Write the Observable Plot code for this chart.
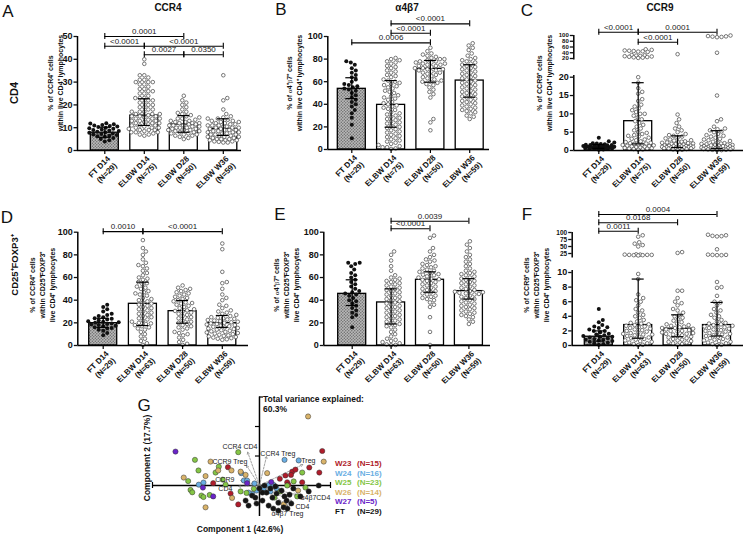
<!DOCTYPE html>
<html><head><meta charset="utf-8">
<script src="https://cdn.jsdelivr.net/npm/d3@7"></script>
<script src="https://cdn.jsdelivr.net/npm/@observablehq/plot@0.6"></script>
<style>
html,body{margin:0;padding:0;background:#fff;}
#page{position:relative;width:744px;height:536px;overflow:hidden;background:#fff;font-family:"Liberation Sans",Arial,Helvetica,sans-serif;color:#111;}
.t{position:absolute;white-space:pre;line-height:1.2;}
</style></head><body>
<svg width="0" height="0" style="position:absolute"><defs><pattern id="stip" width="3" height="3" patternUnits="userSpaceOnUse"><rect width="3" height="3" fill="#b8b8b8"/><circle cx="0.8" cy="0.8" r="0.7" fill="#666"/><circle cx="2.3" cy="2.3" r="0.7" fill="#666"/></pattern></defs></svg>
<div id="page"></div>
<script>
// ---------------- DATA ----------------
const groups = ["FT D14", "ELBW D14", "ELBW D28", "ELBW W36"];
const nTop = [29, 75, 50, 59];
const nBottom = [29, 63, 50, 59];

// A: CCR4 within CD4
const ccr4Cd4FT = [12,11.8,11.5,11.2,11,10.8,10.5,10.3,10,9.8,9.5,9.2,9,8.8,8.5,8.2,8,7.8,7.5,7.2,7,6.8,6.5,6.2,6,5.5,5,4.5,4];
const ccr4Cd4D14 = [40,38,33,33,32,31,31,30,30,30,29,29,28,27,27,26,26,25,25,24,23,23,23,22,22,21,21,20,20,19,19,18,18,17,17,17,16,16,16,15.5,15,15,15,14.5,14,14,14,13.5,13,13,13,12.5,12,12,12,11.5,11,11,11,10.5,10,10,10,9.5,9,9,9,8.5,8,8,8,7.5,7,7,6.5];
const ccr4Cd4D28 = [24,22,21,20,19,18,17,16.5,16,15.5,15,14.5,14,14,13.5,13,13,12.5,12.5,12,12,12,11.5,11.5,11,11,11,10.5,10.5,10,10,10,9.5,9.5,9,9,9,8.5,8.5,8,8,7.5,7.5,7,7,6.5,6.5,6,5.5,5];
const ccr4Cd4W36 = [33,23,22,18,16,15,14.5,14,14,13.5,13,13,12.5,12.5,12,12,11.5,11.5,11,11,11,10.5,10.5,10,10,10,9.5,9.5,9,9,9,8.5,8.5,8,8,8,7.5,7.5,7,7,7,6.5,6.5,6,6,6,5.5,5.5,5,5,5,4.5,4.5,4.5,4,4,3.8,3.5,3.5];
const ccr4Cd4Median = [7.8, 15.3, 11.4, 9.5];
const ccr4Cd4Low = [5.8, 11, 8, 6.6];
const ccr4Cd4High = [10.2, 22.7, 15.3, 13.9];
const ccr4Cd4Pvals = [[0,2,50,"0.0001"],[0,1,45.7,"<0.0001"],[1,3,45.7,"<0.0001"],[1,2,42,"0.0027"],[2,3,42,"0.0350"]];

// B: a4b7 within CD4
const a4b7Cd4FT = [78,77,75,72,70,68,66,64,62,60,58,57,56,55,54,53,52,50,48,46,44,42,40,38,35,32,28,22,10];
const a4b7Cd4D14 = [81,80,79,78,77,76,74,73,72,70,69,68,66,65,64,62,61,60,59,58,57,56,55,54,52,51,50,48,47,46,45,44,42,41,40,39,38,37,36,35,33,32,31,30,29,28,27,26,25,24,23,22,21,20,19,18,17,16,15,14,13,12,11,10,9,8,7,6,5,4,3,2,2,1,0.5];
const a4b7Cd4D28 = [90,87,85,84,83,82,81,80,80,79,78,78,77,77,76,76,75,75,74,74,73,72,72,71,71,70,70,69,68,68,67,66,65,64,63,62,61,60,60,59,58,57,55,53,51,49,46,27,24,17];
const a4b7Cd4W36 = [94,92,90,88,85,83,81,80,79,78,77,76,75,74,73,72,71,70,69,68,67,66,65,64,63,62,61,60,59,58,57,56,55,54,53,52,51,50,49,48,47,46,45,44,43,42,41,40,39,38,37,36,35,34,33,32,30,29,27];
const a4b7Cd4Median = [53.7, 39.5, 71.4, 61];
const a4b7Cd4Low = [45, 19.7, 59.6, 46.3];
const a4b7Cd4High = [63.5, 61, 78.8, 75];
const a4b7Cd4Pvals = [[0,2,94.4,"0.0006"],[1,2,102.9,"<0.0001"],[1,3,111.2,"<0.0001"]];

// C: CCR9 within CD4 (broken axis)
const ccr9Cd4FT = [3.5,2.5,2.2,2,1.9,1.8,1.7,1.6,1.5,1.5,1.4,1.3,1.2,1.2,1.1,1,1,0.9,0.9,0.8,0.8,0.7,0.7,0.6,0.5,0.5,0.4,0.3,0.2];
const ccr9Cd4D14 = [52,50,48,47,46,45,44,43,32,31,30,29,28,27,26,25,24,23,22,20,18.5,17,16,15.5,14,13.5,12.5,12,11.5,11,10.5,10,10,9.5,9,8.5,8,7.5,7,6.5,6,5.5,5,4.8,4.5,4.2,4,3.8,3.5,3.2,3,2.8,2.5,2.3,2.1,2,1.9,1.8,1.7,1.6,1.5,1.4,1.3,1.2,1.1,1,0.9,0.8,0.7,0.6,0.5,0.5,0.4,0.3,0.2];
const ccr9Cd4D28 = [35,9.8,8.5,7.5,6.5,6,5.5,5,4.5,4.2,4,3.8,3.5,3.3,3,2.8,2.7,2.5,2.4,2.3,2.2,2.1,2,1.9,1.8,1.7,1.6,1.5,1.4,1.3,1.3,1.2,1.2,1.1,1.1,1,1,0.9,0.9,0.8,0.8,0.7,0.7,0.6,0.6,0.5,0.4,0.3,0.2,0.1];
const ccr9Cd4W36 = [100,98,97,96,95,94,40,15,8.5,8,6.5,6,5.8,5.5,5.2,5,4.5,4.2,4,3.8,3.5,3.2,3,2.8,2.6,2.4,2.2,2,1.9,1.8,1.7,1.6,1.5,1.4,1.3,1.2,1.1,1,1,0.9,0.9,0.8,0.8,0.7,0.7,0.6,0.6,0.5,0.5,0.4,0.4,0.3,0.3,0.2,0.2,0.1,0.1,1.2,1.4];
const ccr9Cd4Median = [1.0, 8.0, 1.3, 1.2];
const ccr9Cd4Low = [0.6, 1.8, 0.8, 0.5];
const ccr9Cd4High = [1.6, 18.5, 4.0, 5.4];
const ccr9Cd4Pvals = [[0,1,111.5,"<0.0001"],[1,3,111.5,"0.0001"],[1,2,76.7,"<0.0001"]];

// D: CCR4 within Treg
const ccr4TregFT = [36,34,32,30,28,27,26,25,24,23.5,23,22,21.5,21,20.5,20,19.5,19,18.5,18,17.5,17,16,15.5,15,14,13,11,9];
const ccr4TregD14 = [93,86,83,80,76,73,71,70,68,66,64,62,60,59,58,56,55,54,52,51,50,48,47,46,45,44,42,41,40,39,38,37,36,35,34,33,32,31,30,29,28,27,26,25,24,23,22,21,20,19.5,19,18,17,16,15,14,12,10,8,6,4,2,0.5];
const ccr4TregD28 = [53,51,50,49,48,47,46,45,44,43,42,41,40,39,38,37.5,37,36,35,34,33,32,31,30.5,30,29,28,27,26,25,24,23,22,21,20,19,18,17,16,15,14,12,11,10,9,7,5,3,1.5,0.5];
const ccr4TregW36 = [90,85,65,56,55,50,45,42,40,36,35,33,31,30,29,28,27,26,25,24.5,24,23.5,23,22.5,22,21.5,21,20.5,20,19.5,19,18.5,18,17.5,17,16.5,16,15.5,15,14.5,14,13.5,13,12.5,12,11.5,11,10.5,10,9.5,9,8.5,8,7.5,7,6.5,6,5.5,5];
const ccr4TregMedian = [19.7, 36.8, 30.3, 19.7];
const ccr4TregLow = [16, 17.6, 19.7, 16];
const ccr4TregHigh = [24, 55.9, 39.7, 26.5];
const ccr4TregPvals = [[0,1,100.5,"0.0010"],[1,3,100.5,"<0.0001"]];

// E: a4b7 within Treg
const a4b7TregFT = [73,73,72,70,67,64,62,60,58,56,54,52,50,48,47,46,45,44,42,40,39,37,35,33,31,29,27,25,16];
const a4b7TregD14 = [83,80,75,70,66,62,60,59,58,57,56,55,54,53,52,51,50,49,48,47,46,45,44,43,42,41,40,39,38,37,36,35,34,33,32,31,30,29,28,27,26,25,24,23,22,21,20,19,18,17,16,14,12,10,8,6,5,4,3,2,1,0.5,0.2];
const a4b7TregD28 = [97,95,86,83,80,78,76,75,74,72,71,70,69,68,67,66,65,64,63,62,61,60,59,58.5,58,57,56,55,54,53,52,51,50,49,48,47,46,45,44,43,42,41,40,38,36,34,25,12,0.5,62.5];
const a4b7TregW36 = [92,89,86,83,80,78,76,74,72,70,68,66,65,64,63,62,61,60,59,58,57,56,55,54,53,52,51,50,49,48,47.5,47,46.5,46,45.5,45,44,43,42,41,40,39,38,37,36,35,34,33,32,31,30,29,28,27,26,25,23,21,19];
const a4b7TregMedian = [45.6, 38, 58, 48];
const a4b7TregLow = [35.3, 19, 47, 41];
const a4b7TregHigh = [58, 50, 65, 59];
const a4b7TregPvals = [[1,2,103,"<0.0001"],[1,3,109.7,"0.0039"]];

// F: CCR9 within Treg (broken axis)
const ccr9TregFT = [5,3.5,3.2,2.8,2.6,2.5,2.4,2.2,2,2,1.8,1.6,1.5,1.4,1.3,1.2,1.1,1,0.9,0.8,0.8,0.7,0.6,0.5,0.4,0.3,0.2,0.1,1.2];
const ccr9TregD14 = [90,85,65,60,55,50,22,21,21,20,20,20,19,19,18,9.8,9.1,7,6.5,6.2,6,5.5,5,4.8,4.5,4.2,4,3.8,3.5,3.3,3.1,3,2.9,2.8,2.7,2.6,2.5,2.4,2.3,2.2,2.1,2,1.9,1.8,1.7,1.6,1.5,1.4,1.3,1.2,1.1,1,0.9,0.8,0.7,0.6,0.5,0.4,0.3,0.2,0.1,0.05,1.5];
const ccr9TregD28 = [30,27,7.5,7.5,6.5,6,5.8,5.5,5,4.8,4.5,4.2,4,3.8,3.6,3.4,3.2,3,2.9,2.8,2.7,2.6,2.5,2.4,2.3,2.2,2.1,2,1.9,1.8,1.7,1.6,1.5,1.4,1.3,1.2,1.1,1,0.9,0.8,0.7,0.6,0.5,0.4,0.3,0.2,0.1,2,2.4,1.6];
const ccr9TregW36 = [92,90,88,87,86,40,21,20,20,19,19,8.7,8,7.9,6.8,6,5.9,5.5,5,4.8,4.5,4.2,4,3.8,3.5,3.3,3.1,3,2.9,2.8,2.7,2.6,2.5,2.4,2.3,2.2,2.1,2,1.9,1.8,1.7,1.6,1.5,1.4,1.3,1.2,1.1,1,0.9,0.8,0.7,0.6,0.5,0.4,0.3,0.2,0.1,0.05,2.5];
const ccr9TregMedian = [1.2, 2.8, 2.3, 2.8];
const ccr9TregLow = [0.6, 1.0, 1.2, 1.3];
const ccr9TregHigh = [2.0, 9.1, 4.2, 5.9];
const ccr9TregPvals = [[0,1,104.6,"0.0011"],[0,2,134.6,"0.0168"],[0,3,164.3,"0.0004"]];

// tick labels
const ticks0to50 = [0,10,20,30,40,50];
const ticks0to100 = [0,20,40,60,80,100];
const ccr9Cd4TicksLow = [0,5,10,15,20];
const ccr9Cd4TicksHigh = [20,40,60,80,100];
const ccr9TregTicksLow = [0,2,4,6,8,10];
const ccr9TregTicksHigh = [25,50,75,100];

// G: PCA scores [component1, component2]
const pcaW23 = [[-1.07,0.62],[-1.57,0.08],[-0.98,-0.27],[-0.72,-0.64],[2.13,1.17],[1.69,0.61],[2.03,0.44],[1.11,0.47],[0.88,0.34],[0.69,0.23],[1.45,0.11],[0.94,0.11],[1.22,0.54],[1.07,0.36],[0.98,0.03]];
const pcaW24 = [[-0.62,0.42],[-0.53,0.17],[-0.42,0.17],[-2.06,0.03],[-0.25,-0.28],[0.85,0.87],[1.33,0.85],[0.32,0.02],[0.48,0.02],[0.14,-0.1],[-0.1,-0.17],[-0.37,-0.24],[0.58,-0.1],[-0.17,0.07],[0.37,-0.2],[-1.9,0.1]];
const pcaW25 = [[-2.19,0.87],[-1.38,0.64],[-1.49,0.44],[-0.72,1.13],[-2.42,0.15],[-2.34,-0.15],[-2.28,-0.23],[-1.97,-0.34],[-1.9,-0.39],[-1.69,-0.32],[-1.15,0.03],[-0.64,-0.2],[-0.44,-0.25],[1.45,0.44],[1.16,0.14],[0.94,0.0],[1.28,-0.37],[-0.19,-0.11],[0.71,-0.2],[-2.07,0.51],[-1.25,0.2],[1.56,-0.07],[0.51,-0.41]];
const pcaW26 = [[-1.66,0.81],[-1.4,0.51],[-0.95,0.51],[-1.83,0.32],[-2.57,0.27],[-0.93,-0.42],[-1.83,-0.74],[-0.64,0.47],[-0.47,0.36],[1.65,2.34],[2.18,0.81],[0.26,0.42],[1.31,-0.17],[0.82,-0.64]];
const pcaW27 = [[-2.85,1.15],[-1.92,-0.07],[-1.57,-0.37],[-0.42,0.08],[0.4,0.12]];
const pcaFT = [[-0.47,-0.51],[-0.25,-0.34],[-0.14,-0.41],[0,-0.1],[0.1,-0.51],[0.24,-0.24],[0.37,-0.1],[0.44,-0.41],[0.58,-0.27],[0.64,-0.58],[0.75,-0.17],[0.85,-0.37],[0.92,-0.51],[1.02,-0.31],[1.08,-0.61],[0.82,-0.74],[0.31,-0.68],[0.47,-0.78],[0.64,-0.85],[0.95,-0.78],[2.01,0],[1.67,-0.2],[0.17,0],[-0.1,-0.61],[-0.37,-0.68],[1.15,-0.1],[1.39,-0.37],[0.1,-0.24],[0.54,-0.03]];
const pcaGroupNames = ["W23","W24","W25","W26","W27","FT"];
const pcaGroupN = [15,16,23,14,5,29];
const pcaColors = ["#b01c2b","#6aaee3","#85c646","#d9b36a","#6a24c8","#151515"];
// loadings
const loadNames = ["CCR4 CD4","CCR4 Treg","Treg","CCR9 Treg","CCR9","CD4","α4β7CD4","CD4","α4β7 Treg"];
const loadX = [-0.40, 0.24, 1.47, -0.44, -0.64, -0.71, 1.25, 1.11, 0.96];
const loadY = [1.13, 0.99, 0.71, 0.68, 0.17, -0.03, -0.31, -0.54, -0.68];
const loadLabelX = [-0.07, 0.03, 1.42, -0.41, -0.85, -0.92, 1.39, 1.22, 0.41];
const loadLabelY = [1.32, 1.08, 0.84, 0.81, 0.19, -0.12, -0.41, -0.71, -0.95];
const loadLabelEnd = [true, false, false, true, true, true, false, false, false];

// ---------------- RENDER ----------------
const FONT = '"Liberation Sans", Arial, Helvetica, sans-serif';
const page = document.getElementById("page");
const W = 744, H = 536;
const svgStyle = {position: "absolute", left: "0px", top: "0px", background: "transparent", overflow: "visible", fontFamily: FONT, fontWeight: "bold", color: "#111"};

function swarm(ys, minD, maxHalf) {
  const idx = d3.range(ys.length).sort((a, b) => ys[a] - ys[b]);
  const off = new Array(ys.length);
  const placed = [];
  const cands = [0];
  for (let s = 0.5; s <= maxHalf; s += 0.5) cands.push(s, -s);
  for (const i of idx) {
    const y = ys[i];
    const near = placed.filter(p => Math.abs(p.y - y) < minD);
    let best = 0, bestScore = -Infinity;
    for (const c of cands) {
      let md = Infinity;
      for (const p of near) { const d = Math.hypot(p.x - c, p.y - y); if (d < md) md = d; }
      if (md >= minD) { best = c; break; }
      if (md > bestScore) { bestScore = md; best = c; }
    }
    off[i] = best;
    placed.push({x: best, y});
  }
  return off;
}

function barPanel(c) {
  const xDom = [-(c.g0 - c.ax) / c.sp, (c.xe - c.g0) / c.sp];
  const pxPerV = (c.y0 - c.yTop) / c.vmax;
  const pts = [];
  c.values.forEach((vals, gi) => {
    const ys = vals.map(v => c.tf(v) * pxPerV);
    const offs = swarm(ys, 4.3, 15.5);
    vals.forEach((v, k) => pts.push({x: gi + offs[k] / c.sp, y: c.tf(v), g: gi}));
  });
  const bars = groups.map((name, i) => ({i, label: name + "\n(N=" + c.n[i] + ")", m: c.tf(c.med[i]), lo: c.tf(c.lo[i]), hi: c.tf(c.hi[i])}));
  const br = c.pairs.map(([a, b, lv, t]) => ({a, b, lv: c.tf(lv), t, mid: (a + b) / 2}));
  const axes = c.tickSets.map(ts => Plot.axisY({ticks: ts.ticks.map(ts.f), tickFormat: (v) => { const k = ts.ticks.find(t => Math.abs(ts.f(t) - v) < 1e-9); return String(k); }, tickSize: 3.5, tickPadding: 1.5, fontSize: ts.fs, fontWeight: "bold", strokeWidth: 1.3, label: null}));
  const plot = Plot.plot({
    width: W, height: H,
    marginLeft: c.ax, marginRight: W - c.xe, marginTop: c.yTop, marginBottom: H - c.y0,
    x: {domain: xDom, axis: null, label: null},
    y: {domain: [0, c.vmax], label: null},
    style: svgStyle,
    marks: [
      Plot.rect(bars.filter(d => d.i === 0), {x1: "i", x2: "i", y1: 0, y2: "m", insetLeft: -14, insetRight: -14, fill: "url(#stip)", stroke: "#000", strokeWidth: 1.3}),
      Plot.rect(bars.filter(d => d.i > 0), {x1: "i", x2: "i", y1: 0, y2: "m", insetLeft: -14, insetRight: -14, fill: "white", stroke: "#000", strokeWidth: 1.3}),
      Plot.dot(pts.filter(d => d.g > 0), {x: "x", y: "y", r: 1.8, fill: "white", stroke: "#555", strokeWidth: 0.8}),
      Plot.dot(pts.filter(d => d.g === 0), {x: "x", y: "y", r: 2, fill: "#111"}),
      Plot.ruleX(bars, {x: "i", y1: "lo", y2: "hi", stroke: "#000", strokeWidth: 1.2}),
      Plot.ruleY(bars, {y: "hi", x1: "i", x2: "i", insetLeft: -6, insetRight: -6, stroke: "#000", strokeWidth: 1.2}),
      Plot.ruleY(bars, {y: "lo", x1: "i", x2: "i", insetLeft: -6, insetRight: -6, stroke: "#000", strokeWidth: 1.2}),
      Plot.ruleX(c.segs, {x: () => xDom[0], y1: d => d[0], y2: d => d[1], stroke: "#000", strokeWidth: 1.5}),
      Plot.ruleY([0], {stroke: "#000", strokeWidth: 1.5}),
      Plot.ruleX(bars, {x: "i", y1: 0, y2: 0, insetBottom: -4, stroke: "#000", strokeWidth: 1.2}),
      ...axes,
      Plot.text(bars, {x: "i", frameAnchor: "bottom", text: "label", rotate: -45, textAnchor: "end", lineAnchor: "top", dx: 1, dy: 4, fontSize: 8, fontWeight: "bold", lineHeight: 1.2}),
      Plot.ruleY(br, {y: "lv", x1: "a", x2: "b", stroke: "#000", strokeWidth: 1.1}),
      Plot.ruleX(br, {x: "a", y1: "lv", y2: "lv", insetTop: -3, insetBottom: -3, stroke: "#000", strokeWidth: 1.1}),
      Plot.ruleX(br, {x: "b", y1: "lv", y2: "lv", insetTop: -3, insetBottom: -3, stroke: "#000", strokeWidth: 1.1}),
      Plot.text(br, {x: "mid", y: "lv", text: "t", dy: -5, fontSize: 8, fontWeight: "normal", fill: "#222"})
    ]
  });
  page.appendChild(plot);
}

const lin = v => v;
// broken axis transforms (virtual pixel-like units)
const ccr9Cd4Low_f = v => v * 3.665;
const ccr9Cd4High_f = v => 92 + (v - 20) * 0.2875;
const ccr9Cd4Tf = v => v <= 20 ? ccr9Cd4Low_f(v) : ccr9Cd4High_f(v);
const ccr9TregLow_f = v => v * 7.3;
const ccr9TregHigh_f = v => 92 + (v - 25) * 0.28;
const ccr9TregTf = v => v <= 10 ? ccr9TregLow_f(v) : ccr9TregHigh_f(v);

barPanel({ax: 77, g0: 104.3, sp: 39.5, xe: 241, y0: 150, yTop: 36, vmax: 50, tf: lin, n: nTop,
  values: [ccr4Cd4FT, ccr4Cd4D14, ccr4Cd4D28, ccr4Cd4W36], med: ccr4Cd4Median, lo: ccr4Cd4Low, hi: ccr4Cd4High, pairs: ccr4Cd4Pvals,
  tickSets: [{ticks: ticks0to50, f: lin, fs: 9}], segs: [[0, 50]]});
barPanel({ax: 327.3, g0: 351.3, sp: 39.3, xe: 489, y0: 149, yTop: 36, vmax: 100, tf: lin, n: nTop,
  values: [a4b7Cd4FT, a4b7Cd4D14, a4b7Cd4D28, a4b7Cd4W36], med: a4b7Cd4Median, lo: a4b7Cd4Low, hi: a4b7Cd4High, pairs: a4b7Cd4Pvals,
  tickSets: [{ticks: ticks0to100, f: lin, fs: 9}], segs: [[0, 100]]});
barPanel({ax: 573.3, g0: 598.3, sp: 39.4, xe: 743, y0: 150, yTop: 35, vmax: 115, tf: ccr9Cd4Tf, n: nTop,
  values: [ccr9Cd4FT, ccr9Cd4D14, ccr9Cd4D28, ccr9Cd4W36], med: ccr9Cd4Median, lo: ccr9Cd4Low, hi: ccr9Cd4High, pairs: ccr9Cd4Pvals,
  tickSets: [{ticks: ccr9Cd4TicksLow, f: ccr9Cd4Low_f, fs: 9}, {ticks: ccr9Cd4TicksHigh, f: ccr9Cd4High_f, fs: 6}], segs: [[0, 75], [90.5, 115]]});
barPanel({ax: 77.3, g0: 102.7, sp: 39.7, xe: 248, y0: 345, yTop: 231.7, vmax: 100, tf: lin, n: nBottom,
  values: [ccr4TregFT, ccr4TregD14, ccr4TregD28, ccr4TregW36], med: ccr4TregMedian, lo: ccr4TregLow, hi: ccr4TregHigh, pairs: ccr4TregPvals,
  tickSets: [{ticks: ticks0to100, f: lin, fs: 9}], segs: [[0, 100]]});
barPanel({ax: 323.3, g0: 351.7, sp: 38.9, xe: 490, y0: 345, yTop: 231.7, vmax: 100, tf: lin, n: nBottom,
  values: [a4b7TregFT, a4b7TregD14, a4b7TregD28, a4b7TregW36], med: a4b7TregMedian, lo: a4b7TregLow, hi: a4b7TregHigh, pairs: a4b7TregPvals,
  tickSets: [{ticks: ticks0to100, f: lin, fs: 9}], segs: [[0, 100]]});
barPanel({ax: 571.7, g0: 598.3, sp: 39.4, xe: 743, y0: 345, yTop: 232, vmax: 113, tf: ccr9TregTf, n: nBottom,
  values: [ccr9TregFT, ccr9TregD14, ccr9TregD28, ccr9TregW36], med: ccr9TregMedian, lo: ccr9TregLow, hi: ccr9TregHigh, pairs: ccr9TregPvals,
  tickSets: [{ticks: ccr9TregTicksLow, f: ccr9TregLow_f, fs: 9}, {ticks: ccr9TregTicksHigh, f: ccr9TregHigh_f, fs: 6.5}], segs: [[0, 75], [87.5, 113]]});

// ---- PCA panel ----
{
  const pcaSets = [pcaW23, pcaW24, pcaW25, pcaW26, pcaW27, pcaFT];
  const loads = loadNames.map((name, i) => ({name, x: loadX[i], y: loadY[i], lx: loadLabelX[i], ly: loadLabelY[i], end: loadLabelEnd[i]}));
  const xd = [-3.63, 2.41];
  const plot = Plot.plot({
    width: W, height: H, marginLeft: 152, marginRight: W - 330, marginTop: 396.5, marginBottom: H - 516,
    x: {domain: xd, axis: null, label: null}, y: {domain: [-1.05, 3], axis: null, label: null},
    style: svgStyle,
    marks: [
      Plot.ruleY([0], {stroke: "#000", strokeWidth: 1.5}),
      Plot.ruleX([0], {stroke: "#000", strokeWidth: 1.5}),
      Plot.ruleY([1, 2], {x1: () => 0, x2: () => 0, insetLeft: -4, stroke: "#000", strokeWidth: 1.2}),
      Plot.ruleY([3], {x1: () => 0, x2: () => 0, insetRight: -4, stroke: "#000", strokeWidth: 1.2}),
      Plot.ruleX(xd, {y1: () => 0, y2: () => 0, insetTop: -3, insetBottom: -3, stroke: "#000", strokeWidth: 1.2}),
      Plot.arrow(loads, {x1: () => 0, y1: () => 0, x2: "x", y2: "y", stroke: "#8a8a8a", strokeWidth: 0.8, strokeDasharray: "2,1.4", headLength: 4}),
      ...pcaSets.map((set, k) => Plot.dot(set, {x: d => d[0], y: d => d[1], r: 2.6, fill: pcaColors[k], stroke: "#333", strokeWidth: 0.5})),
      Plot.text(loads.filter(d => d.end), {x: "lx", y: "ly", text: "name", textAnchor: "end", fontSize: 7, fontWeight: "normal", fill: "#222"}),
      Plot.text(loads.filter(d => !d.end), {x: "lx", y: "ly", text: "name", textAnchor: "start", fontSize: 7, fontWeight: "normal", fill: "#222"})
    ]
  });
  page.appendChild(plot);
}

// ---- HTML text ----
function txt(html, x, y, o = {}) {
  const d = document.createElement("div");
  d.className = "t";
  d.innerHTML = html;
  const size = o.size ?? 8, weight = o.weight ?? "bold", rot = o.rot ?? 0, anchor = o.anchor ?? "center";
  d.style.left = x + "px"; d.style.top = y + "px";
  d.style.fontSize = size + "px"; d.style.fontWeight = weight;
  d.style.textAlign = o.align ?? "center";
  d.style.lineHeight = o.lh ?? 1.2;
  d.style.color = o.color ?? "#111";
  const tx = anchor === "left" ? "0" : "-50%";
  d.style.transform = `translate(${tx},-50%)` + (rot ? ` rotate(${rot}deg)` : "");
  d.style.transformOrigin = anchor === "left" ? "left center" : "center center";
  page.appendChild(d);
}
const G = s => `<span style="font-family:'Liberation Serif',serif;font-weight:normal">${s}</span>`;
// letters
[["A", 8, 12], ["B", 281, 10], ["C", 527, 11], ["D", 7, 218], ["E", 280, 215], ["F", 527, 215], ["G", 144, 406]].forEach(([l, x, y]) => txt(l, x, y, {size: 17, weight: "normal"}));
// titles
txt("CCR4", 168, 8, {size: 10}); txt("α4β7", 407, 8, {size: 10}); txt("CCR9", 660, 8, {size: 10});
// row labels
txt("CD4", 14.5, 93, {size: 11, rot: -90});
txt("CD25⁺FOXP3⁺", 14.5, 265, {size: 9.5, rot: -90});
// y titles
txt("% of CCR4⁺ cells\nwithin live CD4⁺ lymphocytes", 55.5, 83, {size: 7, rot: -90, lh: 1.45});
txt(`% of ${G("α")}4⁺${G("β")}7⁺ cells\nwithin live CD4⁺ lymphocytes`, 295, 83, {size: 7, rot: -90, lh: 1.45});
txt("% of CCR9⁺ cells\nwithin live CD4⁺ lymphocytes", 545, 83, {size: 7, rot: -90, lh: 1.45});
txt("% of CCR4⁺ cells\nwithin CD25⁺FOXP3⁺\nlive CD4⁺ lymphocytes", 43, 285, {size: 7, rot: -90, lh: 1.45});
txt(`% of ${G("α")}4⁺${G("β")}7⁺ cells\nwithin CD25⁺FOXP3⁺\nlive CD4⁺ lymphocytes`, 287, 285, {size: 7, rot: -90, lh: 1.45});
txt("% of CCR9⁺ cells\nwithin CD25⁺FOXP3⁺\nlive CD4⁺ lymphocytes", 537, 285, {size: 7, rot: -90, lh: 1.45});
// PCA texts
txt("Total variance explained:\n60.3%", 263, 405, {size: 8.5, anchor: "left", align: "left", lh: 1.15});
txt("Component 1 (42.6%)", 240, 529, {size: 8.5});
txt("Component 2 (17.7%)", 147, 458, {size: 8.5, rot: -90});
pcaGroupNames.forEach((g, i) => {
  const y = 464 + i * 9.5;
  txt(g, 335, y, {size: 8, anchor: "left", align: "left", color: pcaColors[i]});
  txt(`(N=${pcaGroupN[i]})`, 357, y, {size: 8, anchor: "left", align: "left", color: pcaColors[i]});
});
</script>
</body></html>
